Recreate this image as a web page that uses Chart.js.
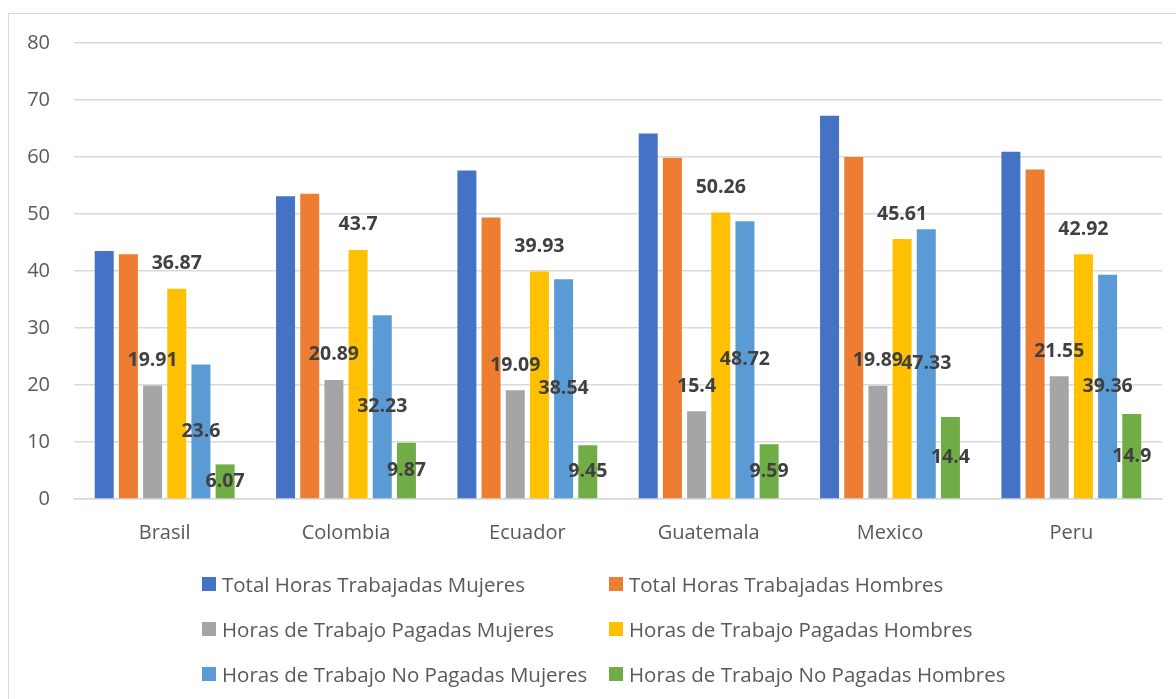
<!DOCTYPE html>
<html>
<head>
<meta charset="utf-8">
<script src="https://cdn.jsdelivr.net/npm/chart.js@4/dist/chart.umd.min.js"></script>
<style>
  body { margin: 0; background: #fff; }
  #wrap { position: relative; width: 1176px; height: 699px; overflow: hidden; }
  #marco { position: absolute; left: 8px; top: 13px; width: 1200px; height: 800px; border: 1.5px solid #d9d9d9; }
  #grafico { position: absolute; left: 0; top: 0; }
  #leyenda { position: absolute; left: 0; top: 0; font-family: "Open Sans", sans-serif; font-size: 20.5px; color: #595959; }
  .item { position: absolute; display: flex; align-items: center; white-space: nowrap; height: 30px; }
  .caja { width: 14px; height: 14px; margin-right: 6px; }
</style>
</head>
<body>
<div id="wrap">
  <div id="marco"></div>
  <canvas id="grafico" width="1176" height="699"></canvas>
  <div id="leyenda"></div>
</div>
<script>
const paises = ['Brasil', 'Colombia', 'Ecuador', 'Guatemala', 'Mexico', 'Peru'];

const totalMujeres = [43.51, 53.12, 57.63, 64.12, 67.22, 60.91];
const totalHombres = [42.94, 53.57, 49.38, 59.85, 60.01, 57.82];
const pagadasMujeres = [19.91, 20.89, 19.09, 15.4, 19.89, 21.55];
const pagadasHombres = [36.87, 43.7, 39.93, 50.26, 45.61, 42.92];
const noPagadasMujeres = [23.6, 32.23, 38.54, 48.72, 47.33, 39.36];
const noPagadasHombres = [6.07, 9.87, 9.45, 9.59, 14.4, 14.9];

const yMax = 80;
const yPaso = 10;

// etiquetas de valor: 'arriba' = encima de la barra, 'centro' = en medio
const etiquetas = {
  id: 'etiquetas',
  afterDatasetsDraw(chart) {
    const ctx = chart.ctx;
    ctx.save();
    ctx.font = 'bold 19.5px "Open Sans"';
    ctx.fillStyle = '#404040';
    ctx.textAlign = 'center';
    ctx.textBaseline = 'middle';
    chart.data.datasets.forEach((ds, i) => {
      if (!ds.etiqueta) return;
      chart.getDatasetMeta(i).data.forEach((bar, j) => {
        const py = ds.etiqueta === 'arriba' ? bar.y - 25 : (bar.y + bar.base) / 2;
        ctx.fillText(String(ds.data[j]), bar.x, py);
      });
    });
    ctx.restore();
  }
};

const grafico = new Chart(document.getElementById('grafico'), {
  type: 'bar',
  data: {
    labels: paises,
    datasets: [
      { label: 'Total Horas Trabajadas Mujeres', data: totalMujeres, backgroundColor: '#4472C4' },
      { label: 'Total Horas Trabajadas Hombres', data: totalHombres, backgroundColor: '#ED7D31' },
      { label: 'Horas de Trabajo Pagadas Mujeres', data: pagadasMujeres, backgroundColor: '#A5A5A5', etiqueta: 'arriba' },
      { label: 'Horas de Trabajo Pagadas Hombres', data: pagadasHombres, backgroundColor: '#FFC000', etiqueta: 'arriba' },
      { label: 'Horas de Trabajo No Pagadas Mujeres', data: noPagadasMujeres, backgroundColor: '#5B9BD5', etiqueta: 'centro' },
      { label: 'Horas de Trabajo No Pagadas Hombres', data: noPagadasHombres, backgroundColor: '#70AD47', etiqueta: 'centro' },
    ],
  },
  options: {
    responsive: false,
    animation: false,
    datasets: {
      bar: { categoryPercentage: 0.8, barPercentage: 0.785 },
    },
    layout: { padding: { left: 0, top: 43, right: 14, bottom: 140 } },
    plugins: {
      legend: { display: false },
      tooltip: { enabled: false },
    },
    scales: {
      x: {
        grid: { display: false },
        border: { color: '#d9d9d9', width: 1.5 },
        ticks: { color: '#595959', font: { family: 'Open Sans', size: 20 }, padding: 14 },
        afterFit(scale) { scale.height = 60; },
      },
      y: {
        min: 0,
        max: yMax,
        grid: { color: '#d9d9d9', lineWidth: 1.5, drawTicks: false },
        border: { display: false },
        ticks: { stepSize: yPaso, color: '#595959', font: { family: 'Open Sans', size: 20 }, padding: 24 },
        afterFit(scale) { scale.width = 74; },
      },
    },
  },
  plugins: [etiquetas],
});

// leyenda en dos columnas
const leyenda = document.getElementById('leyenda');
grafico.data.datasets.forEach((ds, i) => {
  const item = document.createElement('div');
  item.className = 'item';
  item.style.left = (i % 2 === 0 ? 202 : 609) + 'px';
  item.style.top = (569 + Math.floor(i / 2) * 45) + 'px';
  const caja = document.createElement('span');
  caja.className = 'caja';
  caja.style.background = ds.backgroundColor;
  const texto = document.createElement('span');
  texto.textContent = ds.label;
  item.appendChild(caja);
  item.appendChild(texto);
  leyenda.appendChild(item);
});
</script>
</body>
</html>
